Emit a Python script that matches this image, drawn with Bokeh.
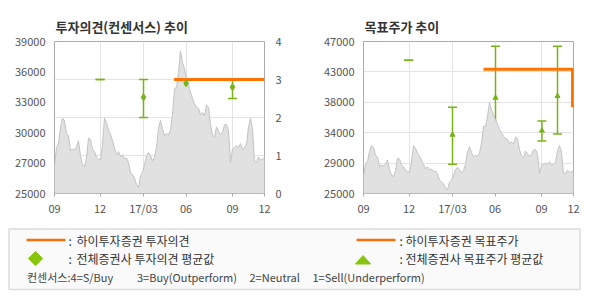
from bokeh.plotting import figure
from bokeh.models import (Range1d, LinearAxis, FixedTicker, Grid, Whisker,
                          TeeHead, ColumnDataSource)
from bokeh.layouts import column, row
from bokeh.core.properties import value
from bokeh.embed import file_html
from bokeh.resources import INLINE

# ---------------- data ----------------
# daily close (sampled), trading-day index 0..105
price = [27550, 29240, 29600, 31080, 31940, 31690, 30530, 30310, 28930, 29080,
         28990, 29300, 29850, 28470, 27640, 27460, 28320, 30100, 30000, 29080,
         28870, 28320, 28160, 28070, 29540, 31940, 31540, 30830, 30470, 29850,
         29180, 28560, 28870, 28380, 28560, 28190, 28250, 27860, 26940, 26720,
         26410, 25800, 25550, 26630, 26940, 27640, 28470, 28780, 28470, 28010,
         28320, 29240, 31020, 31750, 30930, 30310, 30530, 30400, 30830, 32310,
         34700, 34700, 36150, 38140, 37070, 36450, 35680, 35070, 34300, 33780,
         33290, 32920, 32860, 32250, 32460, 32150, 33170, 32920, 31330, 30400,
         30160, 31140, 30770, 30400, 30620, 31330, 31330, 30770, 27860, 29080,
         29240, 29390, 29240, 29600, 29080, 29240, 29480, 31140, 31940, 30930,
         27950, 27860, 28380, 28070, 28160, 28320]
day_idx = list(range(len(price)))

x_tick_pos = [0, 22.8, 44.5, 65.8, 89, 105]
x_tick_labels = ["09", "12", "17/03", "06", "09", "12"]

# consensus rating (all brokers)
rating_x = [22.8, 44.5, 65.8, 89]
rating_hi = [3, 3, 3, 3]
rating_lo = [3, 2, 2.5, 2.5]
rating_mean = [float("nan"), 2.53, 2.9, 2.8]

# Hi Investment rating
broker_rating_x = [59.8, 105]
broker_rating = [3, 3]

# consensus target price (all brokers)
target_x = [22.6, 44.5, 66, 89.2, 97]
target_hi = [44300, 37500, 46300, 35500, 46300]
target_lo = [44300, 29250, 32600, 32600, 33600]
target_mean = [float("nan"), 33500, 38850, 34100, 39100]

# Hi Investment target price
broker_target_x = [60, 104.5, 104.5]
broker_target = [43000, 43000, 37500]

left_y_labels = ["25000", "27000", "30000", "33000", "36000", "39000"]
right_y_labels = ["25000", "29000", "34000", "38000", "43000", "47000"]
rating_ticks = [0, 1, 2, 3, 4]

# ---------------- style ----------------
FONT = "Noto Sans CJK KR"
GREEN = "#78b417"
ORANGE = "#ff7300"
BORDER = "#ababab"
GRIDC = "#e4e4e4"
LABELC = "#555555"


def style_axis(ax, tick=False):
    ax.axis_line_color = None
    ax.minor_tick_line_color = None
    ax.major_label_text_font = FONT
    ax.major_label_text_font_size = "11px"
    ax.major_label_text_color = LABELC
    if tick:
        ax.major_tick_line_color = BORDER
        ax.major_tick_in = 0
        ax.major_tick_out = 3
        ax.major_label_standoff = 3
    else:
        ax.major_tick_line_color = None
        ax.major_label_standoff = 3


def base_fig(title, ymin, ymax, ylabels, bl, br):
    p = figure(width=295, height=220, x_range=Range1d(0, 105),
               y_range=Range1d(ymin, ymax), output_backend="svg",
               toolbar_location=None, min_border_left=bl, min_border_right=br,
               min_border_top=41, min_border_bottom=27,
               outline_line_color=BORDER, outline_line_width=1)
    p.title.text = title
    p.title.text_font = FONT
    p.title.text_font_size = "13px"
    p.title.text_font_style = "bold"
    p.title.text_color = "#333333"
    p.title.align = "left"
    p.title.offset = 1
    p.title.standoff = 12
    step = (ymax - ymin) / (len(ylabels) - 1)
    ypos = [ymin + k * step for k in range(len(ylabels))]
    p.yaxis.ticker = FixedTicker(ticks=ypos)
    p.yaxis.major_label_overrides = {v: s for v, s in zip(ypos, ylabels)}
    style_axis(p.yaxis[0])
    p.xaxis.ticker = FixedTicker(ticks=x_tick_pos)
    p.xaxis.major_label_overrides = {v: s for v, s in zip(x_tick_pos, x_tick_labels)}
    style_axis(p.xaxis[0], tick=True)
    p.xgrid.ticker = FixedTicker(ticks=x_tick_pos[1:-1])
    p.xgrid.grid_line_color = GRIDC
    p.varea(x=day_idx, y1=ymin, y2=price, fill_color="#e1e1e1")
    p.line(day_idx, price, line_color="#c3c3c3", line_width=1)
    return p, ypos


# ---- chart 1: rating ----
p1, _ = base_fig("투자의견(컨센서스) 추이", 25000, 39000, left_y_labels, 54, 31)
p1.ygrid.visible = False
p1.extra_y_ranges = {"rating": Range1d(0, 4)}
rax = LinearAxis(y_range_name="rating", ticker=FixedTicker(ticks=rating_ticks))
style_axis(rax)
rax.major_label_standoff = 5
p1.add_layout(rax, "right")
p1.add_layout(Grid(dimension=1, ticker=FixedTicker(ticks=rating_ticks[1:-1]),
                   y_range_name="rating", grid_line_color=GRIDC))
p1.line(broker_rating_x, broker_rating, line_color=ORANGE, line_width=3,
        y_range_name="rating")
src1 = ColumnDataSource(dict(x=rating_x, hi=rating_hi, lo=rating_lo))
p1.add_layout(Whisker(source=src1, base="x", upper="hi", lower="lo",
                      y_range_name="rating", line_color=GREEN, line_width=1.5,
                      upper_head=TeeHead(size=9, line_color=GREEN, line_width=1.5),
                      lower_head=TeeHead(size=9, line_color=GREEN, line_width=1.5)))
p1.scatter(rating_x, rating_mean, marker="diamond", size=7, color=GREEN,
           y_range_name="rating")

# ---- chart 2: target price ----
p2, ypos2 = base_fig("목표주가 추이", 25000, 47000, right_y_labels, 68, 17)
p2.ygrid.ticker = FixedTicker(ticks=ypos2[1:-1])
p2.ygrid.grid_line_color = GRIDC
p2.line(broker_target_x, broker_target, line_color=ORANGE, line_width=3)
src2 = ColumnDataSource(dict(x=target_x, hi=target_hi, lo=target_lo))
p2.add_layout(Whisker(source=src2, base="x", upper="hi", lower="lo",
                      line_color=GREEN, line_width=1.5,
                      upper_head=TeeHead(size=9, line_color=GREEN, line_width=1.5),
                      lower_head=TeeHead(size=9, line_color=GREEN, line_width=1.5)))
p2.scatter(target_x, target_mean, marker="triangle", size=5, color=GREEN)

# ---- legend ----
p3 = figure(width=590, height=80, x_range=Range1d(0, 590), y_range=Range1d(80, 0),
            x_axis_type=None, y_axis_type=None, output_backend="svg",
            toolbar_location=None, min_border=0, outline_line_color=None)
p3.grid.visible = False
p3.quad(left=8.5, right=579.5, top=8.5, bottom=69, fill_color="#fafafa",
        line_color="#dcdcdc", line_width=1.5)
p3.line([26, 65], [19.5, 19.5], line_color="#f2700e", line_width=2.5)
p3.line([356, 395], [19.5, 19.5], line_color="#f2700e", line_width=2.5)
p3.scatter([35], [38], marker="square", angle=0.785398, size=10,
           color="#86c40e")
p3.patch([355, 370, 362.5], [43.5, 43.5, 35], color="#86c40e")
p3.text([68, 68, 399, 399], [19.5, 38, 19.5, 38], text=[":", ":", ":", ":"],
        text_font=value(FONT), text_font_size="12px", text_color="#333333",
        text_baseline="middle")
p3.text([76, 76, 405, 405], [19.5, 38, 19.5, 38],
        text=["하이투자증권 투자의견", "전체증권사 투자의견 평균값",
              "하이투자증권 목표주가", "전체증권사 목표주가 평균값"],
        text_font=value(FONT), text_font_size="12px", text_color="#333333",
        text_baseline="middle")
p3.text([26.5, 136.5, 249, 312], [56.5, 56.5, 56.5, 56.5],
        text=["컨센서스:4=S/Buy", "3=Buy(Outperform)", "2=Neutral",
              "1=Sell(Underperform)"],
        text_font=value(FONT), text_font_size="11px", text_color="#444444",
        text_baseline="middle")

layout = column(row(p1, p2), p3)
open("out.html", "w").write(file_html(layout, INLINE))
